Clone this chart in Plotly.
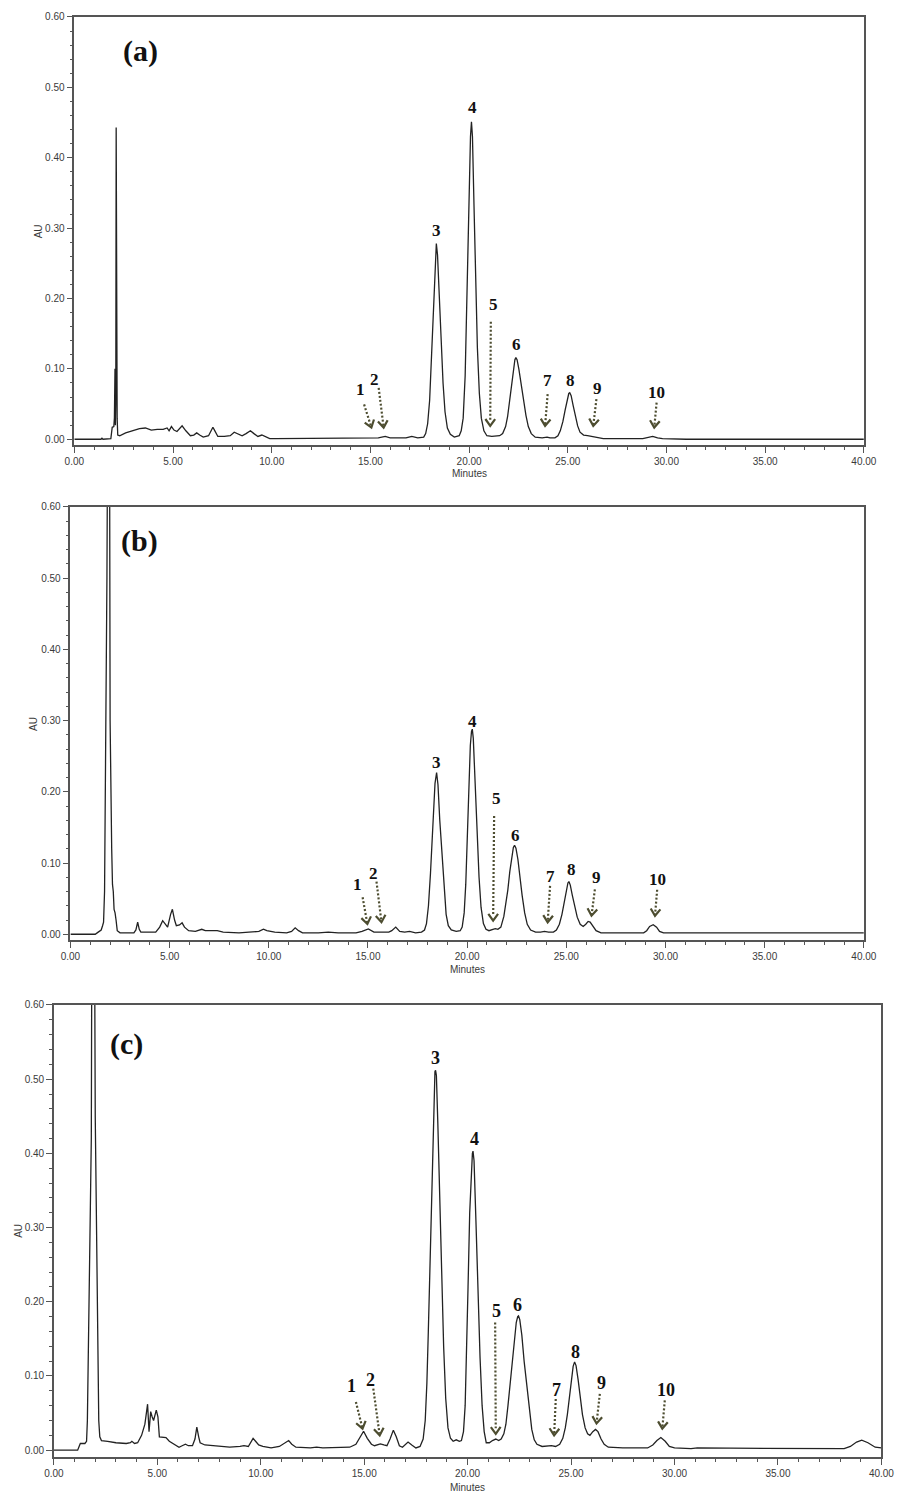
import math
import plotly.graph_objects as go

W, H = 910, 1495

# ---------------- data ----------------
# Panel (a): retention time (min) and absorbance (AU)
A_t = [0.0, 1.35, 1.4, 1.45, 1.85, 1.92, 2.0, 2.03, 2.06, 2.08, 2.1, 2.12, 2.14, 2.17, 2.2, 2.3, 2.6, 3.0,
       3.3, 3.6, 3.9, 4.2, 4.5, 4.7, 4.8, 4.92, 5.05, 5.2, 5.46, 5.65, 5.88, 6.05, 6.2, 6.35, 6.53, 6.8,
       6.95, 7.02, 7.1, 7.27, 7.6, 7.9, 8.1, 8.3, 8.5, 8.7, 8.92, 9.1, 9.3, 9.5, 9.7, 9.9, 10.2, 11.0,
       11.4, 11.8, 13.6, 13.8, 14.0, 14.6, 14.7, 15.0, 15.4, 15.75, 16.0, 16.8, 17.1, 17.4, 17.6,
       17.7, 17.8, 17.9, 18.0, 18.1, 18.2, 18.28, 18.34, 18.4, 18.48, 18.58, 18.68, 18.78, 18.9, 19.05,
       19.25, 19.5, 19.6, 19.7, 19.8, 19.9, 20.0, 20.07, 20.12, 20.17, 20.25, 20.33, 20.42, 20.52, 20.62,
       20.75, 20.9, 21.15, 21.4, 21.55, 21.7, 21.85, 21.95, 22.05, 22.15, 22.25, 22.32, 22.37, 22.43,
       22.52, 22.62, 22.75, 22.88, 23.0, 23.15, 23.35, 23.7, 23.95, 24.1, 24.35, 24.5, 24.62, 24.75,
       24.87, 24.97, 25.05, 25.1, 25.17, 25.27, 25.38, 25.5, 25.62, 25.8, 26.0, 26.2, 26.45, 26.8, 28.8,
       29.05, 29.3, 29.55, 29.8, 31.0, 40.0]
A_au = [0.0, 0.0, 0.0015, 0.0, 0.001, 0.017, 0.018, 0.03, 0.1, 0.02, 0.05, 0.443, 0.05, 0.03, 0.006, 0.005,
        0.009, 0.013, 0.015, 0.016, 0.013, 0.014, 0.014, 0.016, 0.012, 0.018, 0.013, 0.011, 0.019, 0.012,
        0.005, 0.006, 0.009, 0.006, 0.003, 0.005, 0.015, 0.017, 0.013, 0.004, 0.004, 0.005, 0.01, 0.007,
        0.005, 0.008, 0.012, 0.008, 0.004, 0.006, 0.003, 0.001, 0.001, 0.001, 0.002, 0.001, 0.001, 0.002,
        0.001, 0.001, 0.002, 0.002, 0.002, 0.004, 0.002, 0.002, 0.004, 0.002, 0.003,
        0.003, 0.008, 0.022, 0.055, 0.125, 0.2, 0.257, 0.278, 0.262, 0.218, 0.145, 0.08, 0.039, 0.016, 0.007,
        0.003, 0.005, 0.012, 0.03, 0.09, 0.225, 0.355, 0.43, 0.451, 0.43, 0.33, 0.225, 0.13, 0.065, 0.03,
        0.012, 0.005, 0.004, 0.004, 0.005, 0.008, 0.018, 0.032, 0.055, 0.08, 0.102, 0.113, 0.116, 0.113,
        0.1, 0.08, 0.056, 0.034, 0.018, 0.008, 0.003, 0.002, 0.003, 0.002, 0.002, 0.005, 0.012, 0.025,
        0.042, 0.058, 0.065, 0.066, 0.062, 0.048, 0.033, 0.019, 0.01, 0.006, 0.005, 0.004, 0.002, 0.001, 0.001,
        0.002, 0.004, 0.002, 0.001, 0.0, 0.0]

# Panel (b)
B_t = [0.0, 1.25, 1.4, 1.55, 1.62, 1.67, 1.72, 1.74, 1.77, 1.8, 1.84, 1.88, 1.97, 2.0, 2.03, 2.08, 2.12,
       2.16, 2.2, 2.25, 2.3, 2.36, 2.5, 3.2, 3.3, 3.39, 3.47, 3.55, 4.3, 4.5, 4.65, 4.75, 4.9, 5.05, 5.14,
       5.25, 5.34, 5.5, 5.63, 5.75, 5.96, 6.3, 6.62, 6.8, 7.0, 7.4, 7.7, 8.5, 9.0, 9.5, 9.73, 9.9, 10.3,
       10.9, 11.15, 11.33, 11.5, 11.7, 12.5, 13.0, 13.5, 14.4, 14.7, 15.02, 15.3, 15.55, 15.8, 16.05,
       16.2, 16.4, 16.6, 16.85, 17.1, 17.4, 17.7,
       17.85, 17.95, 18.05, 18.15, 18.22, 18.3, 18.38, 18.46, 18.53, 18.62, 18.74, 18.84, 18.94, 19.05,
       19.2, 19.45, 19.65, 19.75, 19.85, 19.93, 20.0, 20.08, 20.16, 20.22, 20.26, 20.31, 20.4, 20.5, 20.6,
       20.7, 20.82, 20.95, 21.1, 21.3, 21.42, 21.55, 21.7, 21.85, 21.95, 22.05, 22.15, 22.25, 22.33,
       22.39, 22.46, 22.56, 22.66, 22.77, 22.9, 23.03, 23.2, 23.45, 23.7, 23.9, 24.1, 24.35, 24.5, 24.65,
       24.78, 24.9, 25.0, 25.08, 25.13, 25.2, 25.3, 25.42, 25.55, 25.7, 25.85, 25.98, 26.1, 26.2, 26.35,
       26.5, 26.75, 28.9, 29.05, 29.2, 29.38, 29.55, 29.7, 29.9, 40.0]
B_au = [0.0, 0.0, 0.003, 0.006, 0.012, 0.017, 0.06, 0.124, 0.19, 0.29, 0.5, 0.75, 0.75, 0.3, 0.18, 0.12,
        0.07, 0.06, 0.035, 0.03, 0.02, 0.005, 0.002, 0.002, 0.006, 0.017, 0.007, 0.003, 0.003, 0.01, 0.019,
        0.015, 0.01, 0.028, 0.035, 0.02, 0.012, 0.013, 0.016, 0.01, 0.005, 0.004, 0.007, 0.005, 0.005,
        0.005, 0.003, 0.002, 0.003, 0.004, 0.007, 0.005, 0.003, 0.002, 0.004, 0.009, 0.005, 0.002, 0.002,
        0.003, 0.002, 0.002, 0.004, 0.0075, 0.003, 0.003, 0.004, 0.003, 0.005, 0.01, 0.004, 0.003, 0.004,
        0.002, 0.003,
        0.006, 0.015, 0.04, 0.085, 0.12, 0.17, 0.212, 0.227, 0.21, 0.16, 0.11, 0.06, 0.028, 0.012, 0.006,
        0.004, 0.005, 0.01, 0.03, 0.07, 0.14, 0.21, 0.265, 0.285, 0.288, 0.275, 0.215, 0.145, 0.08, 0.038,
        0.015, 0.007, 0.005, 0.007, 0.008, 0.007, 0.01, 0.025, 0.042, 0.062, 0.088, 0.11, 0.122, 0.125,
        0.121, 0.105, 0.08, 0.055, 0.03, 0.014, 0.006, 0.003, 0.003, 0.004, 0.003, 0.003, 0.006, 0.014,
        0.028, 0.045, 0.062, 0.072, 0.074, 0.069, 0.055, 0.038, 0.024, 0.014, 0.011, 0.014, 0.018, 0.017,
        0.011, 0.005, 0.002, 0.002, 0.005, 0.011, 0.0135, 0.01, 0.004, 0.002, 0.002]

# Panel (c)
C_t = [0.0, 1.15, 1.22, 1.28, 1.5, 1.58, 1.62, 1.67, 1.73, 1.77, 1.81, 1.84, 1.96, 2.0, 2.02, 2.04, 2.07,
       2.1, 2.12, 2.14, 2.17, 2.22, 2.3, 2.6, 3.0, 3.5, 3.7, 3.77, 3.9, 4.05, 4.24, 4.4, 4.48, 4.53, 4.6,
       4.68, 4.75, 4.82, 4.95, 5.03, 5.1, 5.26, 5.42, 5.58, 5.8, 6.05, 6.2, 6.36, 6.5, 6.7, 6.82, 6.91,
       7.0, 7.07, 7.3, 7.6, 8.0, 8.5, 9.0, 9.19, 9.4, 9.55, 9.63, 9.75, 9.9, 10.1, 10.5, 10.9, 11.2,
       11.35, 11.5, 11.7, 12.4, 12.7, 13.0, 13.9, 14.3, 14.6, 14.8, 14.97, 15.15, 15.35, 15.5, 15.78,
       15.95, 16.1, 16.25, 16.41, 16.55, 16.7, 16.85, 17.0, 17.12, 17.3, 17.5, 17.7,
       17.85, 17.95, 18.03, 18.1, 18.18, 18.27, 18.36, 18.42, 18.45, 18.49, 18.56, 18.65, 18.74, 18.84,
       18.94, 19.05, 19.17, 19.3, 19.45, 19.6, 19.7, 19.8, 19.88, 19.95, 20.02, 20.1, 20.18, 20.23,
       20.26, 20.31, 20.4, 20.5, 20.6, 20.7, 20.8, 20.9, 21.05, 21.2, 21.36, 21.5, 21.62, 21.75, 21.85,
       21.95, 22.05, 22.15, 22.25, 22.35, 22.42, 22.46, 22.52, 22.62, 22.73, 22.86, 22.98, 23.1, 23.22,
       23.35, 23.6, 23.9, 24.05, 24.25, 24.45, 24.6, 24.72, 24.82, 24.92, 25.02, 25.1, 25.17, 25.24,
       25.34, 25.45, 25.55, 25.68, 25.8, 25.91, 26.05, 26.18, 26.3, 26.45, 26.6, 26.8, 27.5, 28.7,
       28.95, 29.15, 29.34, 29.55, 29.75, 30.0, 30.8, 31.1, 31.4, 31.7, 34.0, 34.3, 34.6, 38.2, 38.5,
       38.8, 39.05, 39.35, 39.7, 40.0]
C_au = [0.0, 0.0, 0.005, 0.009, 0.009, 0.012, 0.04, 0.13, 0.22, 0.31, 0.42, 0.75, 0.75, 0.45, 0.4, 0.3,
        0.25, 0.19, 0.14, 0.075, 0.04, 0.018, 0.013, 0.012, 0.01, 0.009, 0.01, 0.012, 0.009, 0.01, 0.02,
        0.035, 0.05, 0.062, 0.025, 0.052, 0.045, 0.04, 0.054, 0.045, 0.018, 0.018, 0.017, 0.012, 0.008,
        0.004, 0.006, 0.008, 0.006, 0.006, 0.015, 0.031, 0.018, 0.01, 0.007, 0.006, 0.005, 0.004, 0.005,
        0.006, 0.005, 0.012, 0.016, 0.012, 0.007, 0.005, 0.003, 0.005, 0.01, 0.013, 0.008, 0.004, 0.003,
        0.004, 0.003, 0.003, 0.004, 0.008, 0.018, 0.0255, 0.016, 0.008, 0.006, 0.0085, 0.007, 0.006, 0.015,
        0.027, 0.018, 0.006, 0.004, 0.008, 0.011, 0.007, 0.003, 0.005,
        0.015, 0.04, 0.09, 0.16, 0.25, 0.38, 0.48, 0.51, 0.512, 0.505, 0.44, 0.33, 0.24, 0.14, 0.07, 0.03,
        0.016, 0.012, 0.014, 0.012, 0.013, 0.025, 0.06, 0.13, 0.22, 0.32, 0.385, 0.4, 0.403, 0.39, 0.31,
        0.215, 0.125, 0.06, 0.025, 0.01, 0.01, 0.013, 0.015, 0.013, 0.015, 0.022, 0.035, 0.06, 0.09, 0.12,
        0.15, 0.172, 0.18, 0.181, 0.176, 0.155, 0.12, 0.085, 0.052, 0.028, 0.014, 0.008, 0.005, 0.006,
        0.006, 0.005, 0.008, 0.016, 0.03, 0.048, 0.07, 0.095, 0.113, 0.119, 0.114, 0.095, 0.068, 0.048,
        0.03, 0.022, 0.02, 0.025, 0.028, 0.025, 0.015, 0.008, 0.004, 0.003, 0.003, 0.007, 0.013, 0.017,
        0.012, 0.005, 0.003, 0.002, 0.003, 0.003, 0.002, 0.002, 0.003, 0.002, 0.002, 0.005, 0.011, 0.0135,
        0.01, 0.004, 0.003]

PEAK_NAMES = ["1", "2", "3", "4", "5", "6", "7", "8", "9", "10"]
# label positions (time, AU) for peaks 1..10
A_lab_t = [14.48, 15.21, 18.34, 20.15, 21.22, 22.39, 23.95, 25.14, 26.53, 29.5]
A_lab_au = [0.071, 0.085, 0.296, 0.472, 0.192, 0.134, 0.083, 0.083, 0.072, 0.066]
B_lab_t = [14.48, 15.27, 18.46, 20.26, 21.47, 22.42, 24.19, 25.26, 26.52, 29.6]
B_lab_au = [0.070, 0.086, 0.2415, 0.299, 0.19, 0.138, 0.081, 0.091, 0.08, 0.077]
C_lab_t = [14.4, 15.31, 18.45, 20.34, 21.39, 22.43, 24.3, 25.21, 26.46, 29.57]
C_lab_au = [0.086, 0.095, 0.529, 0.419, 0.188, 0.195, 0.081, 0.132, 0.09, 0.081]

# dotted arrows for minor peaks 1, 2, 5, 7, 9, 10: tail -> tip
ARROW_PEAKS = ["1", "2", "5", "7", "9", "10"]
A_tail_t = [14.68, 15.42, 21.1, 23.98, 26.45, 29.5]
A_tail_au = [0.0495, 0.073, 0.167, 0.064, 0.057, 0.052]
A_tip_t = [15.05, 15.67, 21.07, 23.85, 26.29, 29.38]
A_tip_au = [0.0166, 0.0166, 0.019, 0.019, 0.019, 0.0166]
B_tail_t = [14.73, 15.43, 21.36, 24.18, 26.44, 29.58]
B_tail_au = [0.052, 0.074, 0.166, 0.068, 0.063, 0.0625]
B_tip_t = [14.97, 15.68, 21.31, 24.06, 26.27, 29.47]
B_tip_au = [0.0144, 0.017, 0.019, 0.0168, 0.026, 0.026]
C_tail_t = [14.6, 15.44, 21.33, 24.26, 26.39, 29.53]
C_tail_au = [0.065, 0.083, 0.172, 0.069, 0.076, 0.067]
C_tip_t = [14.92, 15.75, 21.36, 24.18, 26.23, 29.41]
C_tip_au = [0.029, 0.02, 0.022, 0.02, 0.036, 0.029]

PANEL_TAGS = ["(a)", "(b)", "(c)"]
X_TICKS = [0, 5, 10, 15, 20, 25, 30, 35, 40]
Y_TICKS = [0.0, 0.1, 0.2, 0.3, 0.4, 0.5, 0.6]

# ---------------- layout geometry (pixels) ----------------
panels = [
    dict(t=A_t, y=A_au, lt=A_lab_t, ly=A_lab_au, at=A_tail_t, ay=A_tail_au, pt=A_tip_t, py=A_tip_au,
         x0=66, x1=876, ytop=11, ybot=441, ymin=-0.0085, tag_xy=(134, 45), au_x=29, min_y=469, lab_size=17),
    dict(t=B_t, y=B_au, lt=B_lab_t, ly=B_lab_au, at=B_tail_t, ay=B_tail_au, pt=B_tip_t, py=B_tip_au,
         x0=62, x1=876, ytop=503, ybot=938, ymin=-0.0084, tag_xy=(133, 537), au_x=24, min_y=967, lab_size=17),
    dict(t=C_t, y=C_au, lt=C_lab_t, ly=C_lab_au, at=C_tail_t, ay=C_tail_au, pt=C_tip_t, py=C_tip_au,
         x0=45, x1=894, ytop=1003, ybot=1457, ymin=-0.0094, tag_xy=(120, 1042), au_x=8, min_y=1487, lab_size=18),
]

AXIS_COL = "#555555"
TEXT_COL = "#3a3a3a"
ARROW_COL = "#4d4d30"
TICK_FONT = dict(family="Liberation Sans, Arial, sans-serif", size=10, color=TEXT_COL)
SERIF = "Liberation Serif, Times New Roman, serif"

fig = go.Figure()
annotations = []
layout_axes = {}


def chevron(tip_t, tip_y, tail_t, tail_y, sx, sy, arm=8.5, ang=36):
    dx = (tail_t - tip_t) * sx
    dy = -(tail_y - tip_y) * sy
    L = math.hypot(dx, dy)
    ux, uy = dx / L, dy / L
    xs, ys = [], []
    for s in (1, -1):
        a = math.radians(ang * s)
        rx = ux * math.cos(a) - uy * math.sin(a)
        ry = ux * math.sin(a) + uy * math.cos(a)
        xs.append(tip_t + rx * arm / sx)
        ys.append(tip_y - ry * arm / sy)
    return [xs[0], tip_t, xs[1], None], [ys[0], tip_y, ys[1], None]


for i, p in enumerate(panels):
    n = "" if i == 0 else str(i + 1)
    xa, ya = "x" + n, "y" + n
    xdom = [p["x0"] / W, p["x1"] / W]
    ydom = [1 - p["ybot"] / H, 1 - p["ytop"] / H]
    sx = (p["x1"] - p["x0"]) / 40.0
    sy = (p["ybot"] - p["ytop"]) / (0.6 - p["ymin"])

    fig.add_trace(go.Scatter(x=p["t"], y=p["y"], mode="lines", xaxis=xa, yaxis=ya,
                             line=dict(color="#222222", width=1.3), showlegend=False, hoverinfo="skip"))

    # dotted shafts and open chevron heads
    sh_x, sh_y, ch_x, ch_y = [], [], [], []
    for k in range(len(ARROW_PEAKS)):
        sh_x += [p["at"][k], p["pt"][k] + (p["at"][k] - p["pt"][k]) * 0.05, None]
        sh_y += [p["ay"][k], p["py"][k] + (p["ay"][k] - p["py"][k]) * 0.05, None]
        cx, cy = chevron(p["pt"][k], p["py"][k], p["at"][k], p["ay"][k], sx, sy)
        ch_x += cx
        ch_y += cy
    fig.add_trace(go.Scatter(x=sh_x, y=sh_y, mode="lines", xaxis=xa, yaxis=ya,
                             line=dict(color=ARROW_COL, width=2.2, dash="2px,2px"),
                             showlegend=False, hoverinfo="skip"))
    fig.add_trace(go.Scatter(x=ch_x, y=ch_y, mode="lines", xaxis=xa, yaxis=ya,
                             line=dict(color=ARROW_COL, width=2.2), showlegend=False, hoverinfo="skip"))

    layout_axes["xaxis" + n] = dict(
        domain=xdom, range=[0, 40], anchor=ya, tickvals=X_TICKS, tickformat=".2f",
        showline=True, linecolor=AXIS_COL, linewidth=1.5, mirror=True, ticks="outside",
        ticklen=6, tickwidth=1.2, tickcolor=AXIS_COL, showgrid=False, zeroline=False,
        tickfont=TICK_FONT, fixedrange=True,
        minor=dict(dtick=1, tick0=0, ticks="outside", ticklen=3, tickwidth=1, tickcolor=AXIS_COL, showgrid=False),
    )
    layout_axes["yaxis" + n] = dict(
        domain=ydom, range=[p["ymin"], 0.6], anchor=xa, tickvals=Y_TICKS, tickformat=".2f",
        showline=True, linecolor=AXIS_COL, linewidth=1.5, mirror=True, ticks="outside",
        ticklen=6, tickwidth=1.2, tickcolor=AXIS_COL, showgrid=False, zeroline=False,
        tickfont=TICK_FONT, fixedrange=True,
        minor=dict(dtick=0.02, tick0=0, ticks="outside", ticklen=3, tickwidth=1, tickcolor=AXIS_COL, showgrid=False),
    )

    # peak number labels
    for k, name in enumerate(PEAK_NAMES):
        annotations.append(dict(x=p["lt"][k], y=p["ly"][k], xref=xa, yref=ya, text="<b>%s</b>" % name,
                                showarrow=False, xanchor="center", yanchor="middle",
                                font=dict(family=SERIF, size=p["lab_size"], color="#111111")))
    # panel tag
    tx, ty = p["tag_xy"]
    annotations.append(dict(x=tx / W, y=1 - ty / H, xref="paper", yref="paper", text="<b>%s</b>" % PANEL_TAGS[i],
                            showarrow=False, xanchor="center", yanchor="middle",
                            font=dict(family=SERIF, size=30, color="#111111")))
    # axis titles
    annotations.append(dict(x=p["au_x"] / W, y=1 - (p["ytop"] + p["ybot"]) / 2 / H, xref="paper", yref="paper",
                            text="AU", textangle=-90, showarrow=False, xanchor="center", yanchor="middle",
                            font=dict(family="Liberation Sans, Arial, sans-serif", size=10, color=TEXT_COL)))
    annotations.append(dict(x=(p["x0"] + p["x1"]) / 2 / W, y=1 - p["min_y"] / H, xref="paper", yref="paper",
                            text="Minutes", showarrow=False, xanchor="center", yanchor="middle",
                            font=dict(family="Liberation Sans, Arial, sans-serif", size=10, color=TEXT_COL)))

fig.update_layout(
    width=W, height=H, autosize=False,
    margin=dict(l=0, r=0, t=0, b=0, pad=0),
    paper_bgcolor="white", plot_bgcolor="white",
    showlegend=False, annotations=annotations, hovermode=False,
    **layout_axes,
)

fig.write_html("out.html", config={"displayModeBar": False},
               post_script="document.body.style.margin='0';document.body.style.overflow='hidden';")
